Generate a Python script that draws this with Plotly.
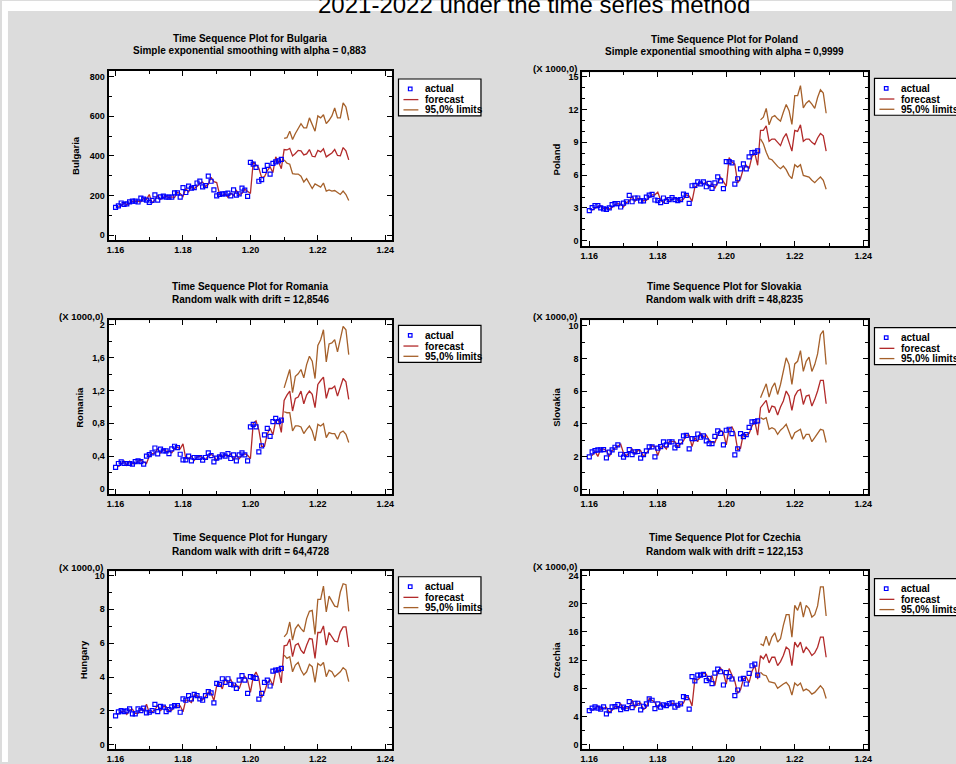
import plotly.graph_objects as go

W, H = 956, 764

# ---------------- time axis (monthly, 1/1200 per month) ----------------
N_HIST = 60
N_FORE = 24
t_hist = [1.16 + i / 1200 for i in range(N_HIST)]
t_fore = [1.16 + (N_HIST + i) / 1200 for i in range(N_FORE)]
t_fit = t_hist[1:] + t_fore

x_tickvals = [1.16, 1.18, 1.20, 1.22, 1.24]
x_ticktext = ["1.16", "1.18", "1.20", "1.22", "1.24"]
x_minor = [1.17, 1.19, 1.21, 1.23]

# ---------------- Bulgaria ----------------
bulgaria_actual = [140, 148, 162, 155, 158, 168, 172, 172, 167, 187, 182, 177, 165, 175, 203, 177, 193, 197, 192, 192,
                   192, 213, 213, 192, 240, 215, 247, 237, 240, 263, 273, 243, 250, 298, 272, 228, 198, 205, 208, 208,
                   212, 198, 228, 202, 208, 237, 227, 195, 367, 358, 342, 272, 280, 327, 352, 308, 362, 370, 375, 382]
bulgaria_fitted = [143, 150, 163, 153, 160, 170, 172, 170, 168, 185, 180, 205, 162, 178, 200, 180, 190, 195, 190,
                   193, 190, 215, 210, 195, 235, 218, 243, 235, 245, 260, 268, 245, 255, 292, 270, 265, 205, 200, 208,
                   190, 212, 200, 225, 205, 210, 232, 222, 210, 370, 355, 338, 290, 295, 325, 345, 315, 395, 370, 335]
bulgaria_forecast = [432, 430, 438, 400, 412, 428, 425, 405, 410, 432, 398, 395,
                     428, 420, 436, 395, 405, 415, 432, 402, 400, 442, 425, 380]
bulgaria_upper = [488, 492, 525, 483, 513, 542, 563, 542, 542, 592, 555, 525,
                  602, 592, 608, 563, 580, 602, 642, 592, 592, 668, 647, 580]
bulgaria_lower = [380, 363, 358, 310, 308, 308, 297, 268, 285, 258, 235, 258,
                  252, 242, 263, 222, 228, 222, 225, 213, 205, 222, 205, 175]

# ---------------- Poland (x 1000) ----------------
poland_actual = [2.76, 3.03, 3.21, 3.21, 3.00, 2.91, 2.88, 3.00, 3.30, 3.39, 3.39, 3.09, 3.45, 3.57, 4.15, 3.57, 3.91,
                 3.91, 3.64, 3.64, 4.00, 4.18, 4.24, 3.73, 3.67, 3.48, 3.91, 3.61, 3.76, 3.94, 3.76, 3.67, 3.76, 4.27,
                 4.15, 3.42, 5.03, 5.06, 5.39, 5.21, 5.39, 4.94, 5.24, 4.79, 5.30, 5.85, 5.48, 4.76, 7.24, 7.24, 7.12,
                 5.18, 5.67, 6.58, 7.03, 6.58, 7.67, 8.06, 8.09, 8.21]
poland_fitted = [2.80, 3.00, 3.15, 3.20, 2.95, 2.95, 2.90, 3.05, 3.30, 3.40, 3.35, 3.10, 3.50, 3.60, 4.10, 3.60, 3.90,
                 3.85, 3.65, 3.70, 4.00, 4.20, 4.20, 4.45, 3.70, 3.50, 3.90, 3.60, 3.80, 3.95, 3.70, 3.70, 3.80, 4.20,
                 4.10, 3.60, 4.90, 5.10, 5.30, 5.20, 5.35, 4.90, 5.20, 4.80, 5.30, 5.80, 5.40, 5.00, 7.60, 7.20, 7.00,
                 5.30, 5.70, 6.60, 6.90, 6.60, 7.70, 8.00, 6.90]
poland_forecast = [10.1, 10.1, 10.5, 9.1, 9.3, 9.3, 9.0, 8.7, 9.4, 9.8, 9.0, 8.2,
                   10.1, 10.0, 10.6, 9.1, 9.3, 9.3, 9.0, 8.8, 9.4, 9.8, 9.6, 8.2]
poland_upper = [11.05, 11.3, 12.1, 10.6, 11.3, 11.45, 11.15, 10.93, 11.75, 12.45, 11.9, 10.63,
                13.27, 13.27, 14.18, 12.15, 12.57, 12.8, 12.5, 12.1, 13.1, 13.8, 13.5, 11.66]
poland_lower = [9.32, 8.87, 8.1, 7.5, 7.41, 7.1, 6.8, 6.59, 6.83, 6.5, 5.98, 5.68,
                6.95, 6.74, 6.95, 5.98, 5.92, 5.83, 5.53, 5.31, 5.59, 5.83, 5.53, 4.71]

# ---------------- Romania (x 1000) ----------------
romania_actual = [0.263, 0.311, 0.331, 0.311, 0.311, 0.311, 0.303, 0.335, 0.343, 0.335, 0.303, 0.400, 0.420, 0.440,
                  0.500, 0.428, 0.485, 0.465, 0.465, 0.432, 0.489, 0.521, 0.505, 0.424, 0.356, 0.356, 0.400, 0.343,
                  0.384, 0.384, 0.384, 0.352, 0.384, 0.440, 0.408, 0.331, 0.376, 0.392, 0.416, 0.400, 0.432, 0.372,
                  0.416, 0.343, 0.416, 0.440, 0.416, 0.343, 0.756, 0.788, 0.756, 0.452, 0.525, 0.659, 0.739, 0.642,
                  0.820, 0.861, 0.820, 0.840]
romania_fitted = [0.27, 0.31, 0.34, 0.29, 0.34, 0.31, 0.31, 0.34, 0.35, 0.33, 0.31, 0.40, 0.43, 0.44, 0.49, 0.44,
                  0.48, 0.46, 0.46, 0.44, 0.49, 0.51, 0.49, 0.55, 0.37, 0.37, 0.40, 0.35, 0.39, 0.40, 0.38, 0.36,
                  0.40, 0.42, 0.40, 0.35, 0.41, 0.40, 0.41, 0.40, 0.43, 0.36, 0.41, 0.37, 0.41, 0.43, 0.41, 0.37,
                  0.80, 0.83, 0.72, 0.52, 0.52, 0.67, 0.74, 0.66, 0.83, 0.84, 0.69]
romania_forecast = [1.079, 1.143, 1.192, 0.95, 1.103, 1.119, 1.192, 1.038, 1.143, 1.192, 1.152, 0.99,
                    1.273, 1.321, 1.362, 1.103, 1.224, 1.224, 1.253, 1.131, 1.253, 1.345, 1.305, 1.091]
romania_upper = [1.232, 1.333, 1.455, 1.172, 1.373, 1.402, 1.455, 1.354, 1.515, 1.616, 1.556, 1.345,
                 1.749, 1.818, 1.939, 1.548, 1.766, 1.778, 1.818, 1.669, 1.818, 1.98, 1.939, 1.636]
romania_lower = [0.941, 0.929, 0.929, 0.707, 0.768, 0.768, 0.756, 0.675, 0.727, 0.768, 0.707, 0.586,
                 0.788, 0.768, 0.796, 0.626, 0.687, 0.675, 0.675, 0.606, 0.687, 0.707, 0.667, 0.566]

# ---------------- Slovakia (x 1000) ----------------
slovakia_actual = [1.97, 2.28, 2.36, 2.40, 2.40, 2.42, 1.91, 2.26, 2.40, 2.56, 2.70, 2.13, 1.95, 2.11, 2.42, 2.11,
                   2.28, 2.30, 1.89, 2.11, 2.34, 2.58, 2.58, 1.97, 2.50, 2.60, 2.89, 2.70, 2.89, 2.89, 2.52, 2.68,
                   2.89, 3.25, 3.29, 2.46, 3.09, 3.09, 3.37, 3.17, 3.25, 2.95, 2.78, 2.78, 3.23, 3.56, 3.41, 2.70,
                   3.60, 3.66, 3.39, 2.09, 2.46, 3.39, 3.21, 3.33, 3.78, 4.11, 4.13, 4.17]
slovakia_fitted = [2.05, 2.30, 2.00, 2.45, 2.45, 2.35, 2.00, 2.35, 2.50, 2.60, 2.75, 2.20, 2.05, 2.20, 2.45, 2.15,
                   2.35, 2.35, 2.00, 2.20, 2.40, 2.65, 2.60, 2.05, 2.55, 2.65, 2.45, 2.90, 2.90, 2.90, 2.60, 2.75,
                   2.95, 3.30, 3.30, 2.60, 3.15, 2.90, 3.40, 3.20, 3.30, 3.00, 2.85, 2.85, 3.30, 3.60, 3.45, 2.70,
                   3.70, 3.80, 3.45, 2.40, 2.50, 3.40, 3.30, 3.40, 3.85, 4.15, 3.30]
slovakia_forecast = [4.98, 5.18, 5.43, 4.67, 5.08, 5.02, 4.53, 5.02, 5.39, 6.0, 5.69, 4.82,
                     5.69, 6.0, 6.1, 5.18, 5.69, 5.75, 5.08, 5.49, 6.0, 6.65, 6.65, 5.22]
slovakia_upper = [5.59, 6.0, 6.44, 5.63, 6.2, 6.5, 5.79, 6.4, 7.32, 8.03, 7.62, 6.4,
                  7.66, 7.82, 8.47, 7.2, 7.82, 8.07, 7.2, 7.62, 8.27, 9.45, 9.7, 7.62]
slovakia_lower = [4.37, 4.27, 4.37, 3.66, 3.76, 3.66, 3.35, 3.6, 3.76, 3.96, 3.51, 3.05,
                  3.45, 3.56, 3.66, 3.05, 3.35, 3.35, 2.9, 3.15, 3.45, 3.66, 3.6, 2.85]

# ---------------- Hungary (x 1000) ----------------
hungary_actual = [1.71, 1.94, 2.02, 1.96, 2.00, 2.12, 1.82, 1.82, 2.12, 2.02, 2.16, 1.88, 1.92, 2.02, 2.39, 1.96,
                  2.27, 2.22, 1.96, 2.08, 2.24, 2.31, 2.31, 1.92, 2.71, 2.63, 2.90, 2.71, 2.98, 2.90, 2.71, 2.63,
                  2.90, 3.14, 3.06, 2.47, 3.63, 3.57, 3.90, 3.69, 3.90, 3.57, 3.53, 3.33, 3.82, 4.08, 3.82, 3.04,
                  4.02, 3.98, 3.92, 2.69, 3.04, 3.69, 3.82, 3.47, 4.35, 4.41, 4.43, 4.51]
hungary_fitted = [1.80, 1.95, 2.00, 1.80, 2.05, 2.10, 1.85, 1.85, 2.10, 2.00, 2.40, 1.90, 1.95, 2.05, 2.35, 2.00,
                  2.25, 2.25, 2.00, 2.05, 2.25, 2.30, 2.30, 1.95, 2.65, 2.60, 2.50, 2.95, 2.90, 2.75, 2.65, 2.85,
                  3.10, 3.05, 2.60, 3.50, 3.60, 3.30, 3.90, 3.65, 3.85, 3.50, 3.55, 3.30, 3.80, 4.05, 3.80, 3.10,
                  4.00, 4.30, 3.90, 2.80, 3.10, 3.65, 3.85, 3.50, 4.35, 4.40, 3.65]
hungary_forecast = [5.84, 5.88, 6.24, 5.20, 5.88, 5.98, 5.59, 5.39, 5.88, 6.27, 6.24, 5.10,
                    6.63, 6.63, 7.02, 5.88, 6.63, 6.37, 6.12, 6.08, 6.67, 6.96, 6.96, 5.78]
hungary_upper = [6.37, 6.57, 7.25, 6.18, 6.86, 7.10, 6.86, 6.67, 7.45, 7.88, 7.94, 6.51,
                 8.59, 8.59, 9.37, 7.84, 8.78, 8.47, 8.19, 8.14, 9.02, 9.51, 9.45, 7.88]
hungary_lower = [5.29, 5.10, 5.20, 4.31, 4.71, 4.86, 4.41, 4.12, 4.31, 4.75, 4.61, 3.69,
                 4.80, 4.67, 4.86, 4.02, 4.41, 4.31, 4.02, 4.16, 4.31, 4.55, 4.41, 3.73]

# ---------------- Czechia (x 1000) ----------------
czechia_actual = [4.85, 5.18, 5.36, 5.18, 5.04, 5.36, 4.38, 4.85, 5.36, 5.41, 5.69, 4.99, 5.32, 5.13, 6.12, 5.27,
                  5.88, 5.88, 4.94, 5.46, 5.79, 6.49, 6.31, 5.13, 5.79, 5.32, 5.65, 5.55, 5.84, 5.93, 5.32, 5.60,
                  5.79, 6.82, 6.68, 5.04, 9.65, 9.04, 9.88, 9.88, 9.98, 9.08, 9.41, 8.66, 10.16, 10.73, 10.35, 8.47,
                  10.21, 9.65, 9.32, 6.96, 7.76, 9.32, 9.41, 8.61, 10.12, 11.20, 11.44, 9.88]
czechia_fitted = [4.9, 5.1, 5.5, 5.0, 5.2, 5.3, 4.6, 4.9, 5.4, 5.2, 5.8, 5.2, 5.2, 5.2, 6.3, 5.3, 5.8, 5.9, 5.0,
                  5.3, 6.6, 6.3, 6.0, 5.2, 5.9, 5.4, 5.7, 5.5, 5.9, 5.8, 5.3, 5.7, 5.9, 6.8, 6.6, 5.5, 9.3, 9.2,
                  9.6, 10.2, 10.0, 9.0, 9.8, 8.4, 10.3, 10.9, 10.2, 8.6, 10.8, 9.9, 9.0, 7.3, 7.8, 9.3, 9.6, 8.8,
                  10.4, 11.3, 9.3]
czechia_forecast = [12.64, 12.17, 12.88, 11.6, 12.4, 12.4, 11.22, 11.79, 12.64, 13.83, 13.5, 11.22,
                    14.54, 13.83, 14.54, 13.02, 13.83, 13.35, 12.64, 13.02, 13.83, 15.25, 15.25, 12.4]
czechia_upper = [14.3, 14.07, 15.4, 14.07, 15.25, 15.87, 14.54, 15.02, 16.92, 18.43, 18.43, 15.25,
                 19.76, 19.05, 20.24, 18.1, 19.76, 19.29, 18.1, 18.43, 19.67, 22.38, 22.38, 18.25]
czechia_lower = [10.27, 9.89, 9.79, 8.94, 8.84, 8.75, 7.99, 8.37, 8.61, 8.84, 8.37, 7.04,
                 8.75, 8.37, 8.75, 7.66, 7.89, 7.66, 7.18, 7.42, 7.89, 8.37, 7.89, 6.56]

# ---------------- panel definitions ----------------
panels = [
    dict(name="Bulgaria", sub="Simple exponential smoothing with alpha = 0,883",
         actual=bulgaria_actual, fitted=bulgaria_fitted, fc=bulgaria_forecast, up=bulgaria_upper, lo=bulgaria_lower,
         yticks=[0, 200, 400, 600, 800], ytext=["0", "200", "400", "600", "800"], yminor=[100, 300, 500, 700],
         scale=False),
    dict(name="Poland", sub="Simple exponential smoothing with alpha = 0,9999",
         actual=poland_actual, fitted=poland_fitted, fc=poland_forecast, up=poland_upper, lo=poland_lower,
         yticks=[0, 3, 6, 9, 12, 15], ytext=["0", "3", "6", "9", "12", "15"], yminor=[1, 2, 4, 5, 7, 8, 10, 11, 13, 14],
         scale=True),
    dict(name="Romania", sub="Random walk with drift = 12,8546",
         actual=romania_actual, fitted=romania_fitted, fc=romania_forecast, up=romania_upper, lo=romania_lower,
         yticks=[0, 0.4, 0.8, 1.2, 1.6, 2.0], ytext=["0", "0,4", "0,8", "1,2", "1,6", "2"],
         yminor=[0.2, 0.6, 1.0, 1.4, 1.8], scale=True),
    dict(name="Slovakia", sub="Random walk with drift = 48,8235",
         actual=slovakia_actual, fitted=slovakia_fitted, fc=slovakia_forecast, up=slovakia_upper, lo=slovakia_lower,
         yticks=[0, 2, 4, 6, 8, 10], ytext=["0", "2", "4", "6", "8", "10"], yminor=[1, 3, 5, 7, 9], scale=True),
    dict(name="Hungary", sub="Random walk with drift = 64,4728",
         actual=hungary_actual, fitted=hungary_fitted, fc=hungary_forecast, up=hungary_upper, lo=hungary_lower,
         yticks=[0, 2, 4, 6, 8, 10], ytext=["0", "2", "4", "6", "8", "10"], yminor=[1, 3, 5, 7, 9], scale=True),
    dict(name="Czechia", sub="Random walk with drift = 122,153",
         actual=czechia_actual, fitted=czechia_fitted, fc=czechia_forecast, up=czechia_upper, lo=czechia_lower,
         yticks=[0, 4, 8, 12, 16, 20, 24], ytext=["0", "4", "8", "12", "16", "20", "24"],
         yminor=[2, 6, 10, 14, 18, 22], scale=True),
]

# layout geometry in pixels: plot box (x0, x1, y0, y1), axis ranges, text positions
geom = [
    dict(box=(107.3, 392.3, 70.0, 240.0), xr=[1.15794, 1.24195], yr=[-25.2, 830.2],
         t1=37.7, t2=50.0, ytx=74.0, leg=(399, 78.3)),
    dict(box=(584.0, 871.0, 71.7, 246.0), xr=[1.15797, 1.24125], yr=[-0.48, 15.39],
         t1=38.7, t2=51.0, ytx=557.7, leg=(878, 77.7)),
    dict(box=(107.3, 392.3, 320.7, 495.0), xr=[1.15794, 1.24195], yr=[-0.0606, 2.052],
         t1=286.7, t2=300.0, ytx=78.0, leg=(399, 325.7)),
    dict(box=(584.0, 871.0, 320.7, 495.0), xr=[1.15797, 1.24125], yr=[-0.305, 10.32],
         t1=286.7, t2=300.0, ytx=558.0, leg=(878, 328.0)),
    dict(box=(107.3, 392.3, 572.7, 750.7), xr=[1.15794, 1.24195], yr=[-0.235, 10.235],
         t1=539.0, t2=552.3, ytx=81.7, leg=(399, 578.0)),
    dict(box=(584.0, 871.0, 572.0, 750.7), xr=[1.15797, 1.24125], yr=[-0.565, 24.66],
         t1=539.0, t2=552.3, ytx=558.0, leg=(878, 580.0)),
]

C_ACTUAL = "#0000ff"
C_FORE = "#b22a2a"
C_LIMIT = "#a5602a"
FONT = "Liberation Sans"


def px(x):
    return x / W


def py(y):
    return 1 - y / H


fig = go.Figure()
annotations = []
shapes = []

# white strips around the gray page
shapes.append(dict(type="rect", xref="paper", yref="paper", x0=0, x1=1, y0=py(10), y1=1,
                   fillcolor="white", line=dict(width=0), layer="below"))
shapes.append(dict(type="rect", xref="paper", yref="paper", x0=0, x1=px(6), y0=0, y1=1,
                   fillcolor="white", line=dict(width=0), layer="below"))

annotations.append(dict(text="2021-2022 under the time series method", xref="paper", yref="paper",
                        x=px(535), y=py(19), xanchor="center", yanchor="bottom", showarrow=False,
                        font=dict(family=FONT, size=24, color="black")))

layout_axes = {}
for k, (p, g) in enumerate(zip(panels, geom), start=1):
    xa = "x" if k == 1 else f"x{k}"
    ya = "y" if k == 1 else f"y{k}"
    x0, x1, y0, y1 = g["box"]

    # forecast (one-step fitted + forecast), limits, actual
    fig.add_trace(go.Scatter(x=t_fit, y=p["fitted"] + p["fc"], mode="lines", xaxis=xa, yaxis=ya,
                             line=dict(color=C_FORE, width=1.3), showlegend=False, hoverinfo="skip"))
    fig.add_trace(go.Scatter(x=t_fore, y=p["up"], mode="lines", xaxis=xa, yaxis=ya,
                             line=dict(color=C_LIMIT, width=1.3), showlegend=False, hoverinfo="skip"))
    fig.add_trace(go.Scatter(x=t_fore, y=p["lo"], mode="lines", xaxis=xa, yaxis=ya,
                             line=dict(color=C_LIMIT, width=1.3), showlegend=False, hoverinfo="skip"))
    fig.add_trace(go.Scatter(x=t_hist, y=p["actual"], mode="markers", xaxis=xa, yaxis=ya,
                             marker=dict(symbol="square-open", size=4, color=C_ACTUAL,
                                         line=dict(width=1.2, color=C_ACTUAL)),
                             showlegend=False, hoverinfo="skip"))

    tickfont = dict(family=FONT, size=9, color="black", weight="bold")
    common = dict(showline=True, linecolor="black", linewidth=2, mirror="allticks",
                  ticks="inside", ticklen=5, tickwidth=1.3, tickcolor="black",
                  showgrid=False, zeroline=False, fixedrange=True, tickfont=tickfont, tickmode="array")
    layout_axes["xaxis" if k == 1 else f"xaxis{k}"] = dict(
        domain=[px(x0), px(x1)], range=g["xr"], anchor=ya, tickvals=x_tickvals, ticktext=x_ticktext,
        minor=dict(ticks="inside", ticklen=3, tickwidth=1, tickcolor="black", tickmode="array", tickvals=x_minor),
        **common)
    layout_axes["yaxis" if k == 1 else f"yaxis{k}"] = dict(
        domain=[py(y1), py(y0)], range=g["yr"], anchor=xa, tickvals=p["yticks"], ticktext=p["ytext"],
        minor=dict(ticks="inside", ticklen=3, tickwidth=1, tickcolor="black", tickmode="array", tickvals=p["yminor"]),
        **common)

    cx = (x0 + x1) / 2
    tfont = dict(family=FONT, size=10, color="black", weight="bold")
    annotations.append(dict(text=f"Time Sequence Plot for {p['name']}", xref="paper", yref="paper",
                            x=px(cx), y=py(g["t1"]), xanchor="center", yanchor="middle", showarrow=False, font=tfont))
    annotations.append(dict(text=p["sub"], xref="paper", yref="paper",
                            x=px(cx), y=py(g["t2"]), xanchor="center", yanchor="middle", showarrow=False, font=tfont))
    annotations.append(dict(text=p["name"], xref="paper", yref="paper", textangle=-90,
                            x=px(g["ytx"]), y=py((y0 + y1) / 2), xanchor="center", yanchor="middle",
                            showarrow=False, font=dict(family=FONT, size=9.5, color="black", weight="bold")))
    if p["scale"]:
        annotations.append(dict(text="(X 1000,0)", xref="paper", yref="paper",
                                x=px(x0 - 3.5), y=py(y0 - 4), xanchor="right", yanchor="middle", showarrow=False,
                                font=dict(family=FONT, size=9.5, color="black", weight="bold")))

    # legend drawn by hand
    bx, by = g["leg"]
    shapes.append(dict(type="rect", xref="paper", yref="paper", x0=px(bx), x1=px(bx + 83),
                       y0=py(by + 37), y1=py(by), fillcolor="white", line=dict(color="black", width=1.2),
                       layer="above"))
    shapes.append(dict(type="rect", xref="paper", yref="paper", x0=px(bx + 10), x1=px(bx + 13.6),
                       y0=py(by + 11.8), y1=py(by + 8.2), fillcolor="rgba(0,0,0,0)",
                       line=dict(color=C_ACTUAL, width=1.2), layer="above"))
    shapes.append(dict(type="line", xref="paper", yref="paper", x0=px(bx + 5), x1=px(bx + 20),
                       y0=py(by + 20.7), y1=py(by + 20.7), line=dict(color=C_FORE, width=1.3), layer="above"))
    shapes.append(dict(type="line", xref="paper", yref="paper", x0=px(bx + 5), x1=px(bx + 20),
                       y0=py(by + 31), y1=py(by + 31), line=dict(color=C_LIMIT, width=1.3), layer="above"))
    for txt, dy in (("actual", 10), ("forecast", 20.7), ("95,0% limits", 31)):
        annotations.append(dict(text=txt, xref="paper", yref="paper", x=px(bx + 25), y=py(by + dy),
                                xanchor="left", yanchor="middle", showarrow=False,
                                font=dict(family=FONT, size=10, color="black", weight="bold")))

fig.update_layout(
    width=W, height=H, margin=dict(l=0, r=0, t=0, b=0),
    paper_bgcolor="#dcdcdc", plot_bgcolor="white",
    showlegend=False, shapes=shapes, annotations=annotations,
    font=dict(family=FONT), **layout_axes)

fig.write_html("out.html", config={"displayModeBar": False},
               post_script="document.body.style.margin='0';document.body.style.overflow='hidden';")
